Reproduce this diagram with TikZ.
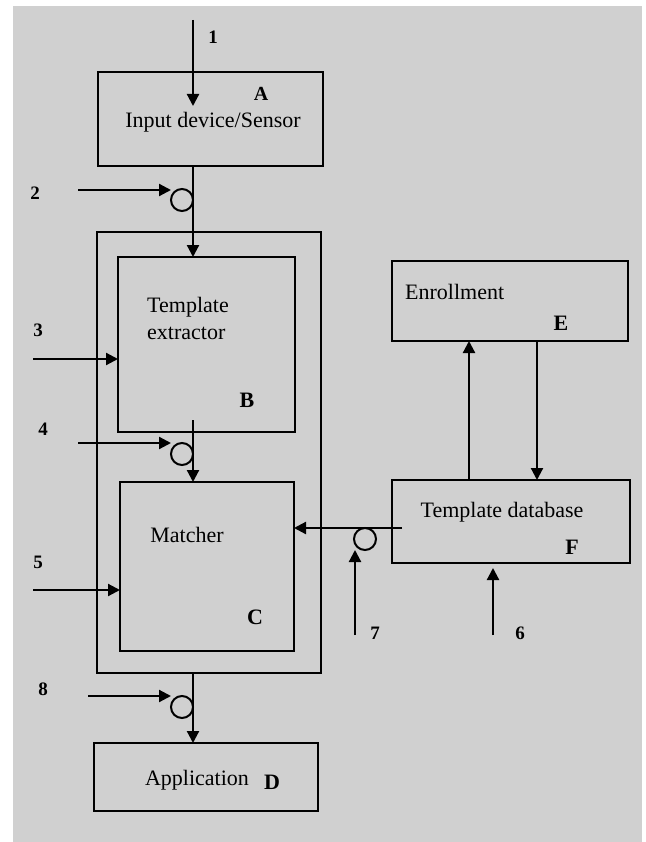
\documentclass[tikz,border=0pt]{standalone}
\usepackage{fontspec}
\setmainfont{Liberation Serif}
\usetikzlibrary{arrows.meta,calc}
\definecolor{bggray}{RGB}{208,208,208}
\tikzset{
  box/.style={draw=black, line width=2.4pt, inner sep=0pt, outer sep=0pt},
  circ/.style={draw=black, circle, line width=2pt, minimum size=22pt, inner sep=0pt, outer sep=0pt},
  arr/.style={line width=2.2pt, -{Triangle[length=12pt,width=12pt]}},
  num/.style={font=\fontsize{19}{22}\selectfont\bfseries, inner sep=0pt},
  let/.style={font=\fontsize{22}{26}\selectfont\bfseries, inner sep=0pt},
  txt/.style={font=\fontsize{22}{27}\selectfont, inner sep=0pt}
}
\begin{document}
\begin{tikzpicture}[x=1pt,y=-1pt]
\useasboundingbox (0,0) rectangle (645,842);
\fill[white] (0,0) rectangle (645,842);
\fill[bggray] (13,6) rectangle (642,842);

% boxes
\node[box, minimum width=225pt, minimum height=94pt] (A) at (210.5,119) {};
\node[box, minimum width=224pt, minimum height=441pt] (BC) at (209,452.5) {};
\node[box, minimum width=177pt, minimum height=175pt] (B) at (206.5,344.5) {};
\node[box, minimum width=174pt, minimum height=169pt] (C) at (207,566.5) {};
\node[box, minimum width=224pt, minimum height=68pt] (D) at (206,777) {};
\node[box, minimum width=236pt, minimum height=80pt] (E) at (510,301) {};
\node[box, minimum width=238pt, minimum height=83pt] (F) at (511,521.5) {};

% texts
\node[txt] (tA) at (213,122) {Input device/Sensor};
\node[let, font=\fontsize{20}{24}\selectfont\bfseries] (lA) at (261,94) {A};
\node[txt, align=left, anchor=west] (tB) at (147,318) {Template\\extractor};
\node[let] (lB) at (247,400) {B};
\node[txt] (tC) at (187,535) {Matcher};
\node[let] (lC) at (255,617) {C};
\node[txt] (tD) at (197,780) {Application};
\node[let] (lD) at (272,782) {D};
\node[txt, anchor=west] (tE) at (405,292) {Enrollment};
\node[let] (lE) at (561,323) {E};
\node[txt] (tF) at (502,512) {Template database};
\node[let] (lF) at (572,547) {F};

% number labels
\node[num] (n1) at (213,37) {1};
\node[num] (n2) at (35,193) {2};
\node[num] (n3) at (38,330) {3};
\node[num] (n4) at (43,429) {4};
\node[num] (n5) at (38,562) {5};
\node[num] (n6) at (520,633) {6};
\node[num] (n7) at (375,633) {7};
\node[num] (n8) at (43,689) {8};

% circles
\node[circ] (k2) at (182,200) {};
\node[circ] (k4) at (182,454) {};
\node[circ] (k8) at (182,707) {};
\node[circ] (k7) at (365,539) {};

% helper coordinates
\coordinate (spine) at (193,0);
\coordinate (ux) at (469,0);
\coordinate (dx) at (537,0);
\coordinate (s1) at (193,20);
\coordinate (t1) at (193,106);
\coordinate (s2) at (78,190);
\coordinate (s3) at (33,359);
\coordinate (b4) at (193,420);
\coordinate (s4) at (78,443);
\coordinate (s5) at (33,590);
\coordinate (f7) at (402,528);
\coordinate (s7) at (355,635);
\coordinate (s6) at (493,635);
\coordinate (t6) at (493,568);
\coordinate (s8) at (88,696);

% connectors
\draw[arr] (s1) -- (t1);
\draw[arr] (A.south -| spine) -- (B.north -| spine);
\draw[arr] (s2) -- (s2 -| k2.west);
\draw[arr] (s3) -- (s3 -| B.west);
\draw[arr] (b4) -- (C.north -| spine);
\draw[arr] (s4) -- (s4 -| k4.west);
\draw[arr] (s5) -- (s5 -| C.west);
\draw[arr] (f7) -- (f7 -| C.east);
\draw[arr] (s7) -- (s7 |- k7.south);
\draw[arr] (F.north -| ux) -- (E.south -| ux);
\draw[arr] (E.south -| dx) -- (F.north -| dx);
\draw[arr] (s6) -- (t6);
\draw[arr] (BC.south -| spine) -- (D.north -| spine);
\draw[arr] (s8) -- (s8 -| k8.west);
\end{tikzpicture}
\end{document}
